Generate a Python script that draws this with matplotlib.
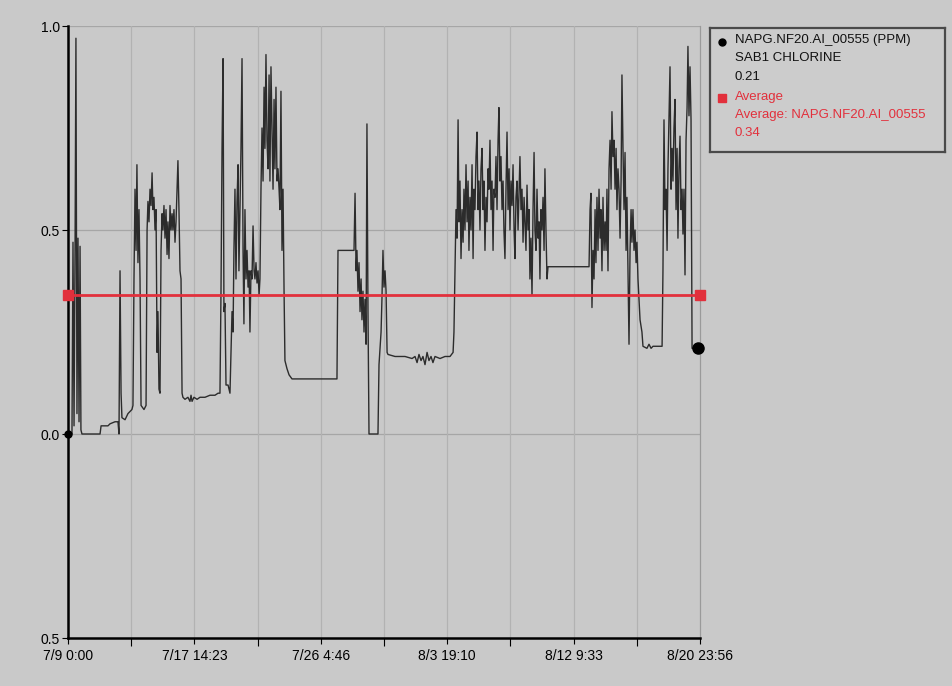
import matplotlib
matplotlib.use("Agg")
import matplotlib.pyplot as plt

plt.rcParams['font.family'] = ['Liberation Sans', 'DejaVu Sans']

# ---- data: elapsed days since 7/9 0:00, chlorine (PPM) ----
days = [
    0.00, 0.27, 0.34, 0.41, 0.48, 0.54, 0.61, 0.68, 0.75, 0.82, 0.88, 0.95,
    2.18, 2.25, 2.72, 2.86, 3.20, 3.40, 3.47, 3.54, 3.61, 3.67, 3.88, 4.08,
    4.35, 4.42, 4.49, 4.56, 4.63, 4.69, 4.76, 4.83, 4.90, 4.97, 5.17, 5.31,
    5.38, 5.44, 5.51, 5.58, 5.65, 5.72, 5.78, 5.85, 5.92, 5.99, 6.06, 6.12,
    6.19, 6.26, 6.33, 6.40, 6.46, 6.53, 6.60, 6.67, 6.74, 6.80, 6.87, 6.94,
    7.01, 7.08, 7.14, 7.21, 7.28, 7.35, 7.42, 7.48, 7.55, 7.62, 7.69, 7.76,
    7.82, 7.96, 8.16, 8.30, 8.37, 8.44, 8.57, 8.78, 8.98, 9.32, 9.66, 10.00,
    10.21, 10.34, 10.41, 10.48, 10.55, 10.61, 10.68, 10.75, 10.89, 11.02, 11.09, 11.16,
    11.23, 11.29, 11.36, 11.43, 11.50, 11.57, 11.63, 11.70, 11.77, 11.84, 11.91, 11.97,
    12.04, 12.11, 12.18, 12.25, 12.32, 12.38, 12.45, 12.52, 12.59, 12.66, 12.72, 12.79,
    12.86, 12.93, 13.00, 13.06, 13.13, 13.20, 13.27, 13.34, 13.40, 13.47, 13.54, 13.61,
    13.68, 13.74, 13.81, 13.88, 13.95, 14.02, 14.08, 14.15, 14.22, 14.29, 14.36, 14.42,
    14.49, 14.56, 14.63, 14.70, 14.76, 14.90, 15.04, 15.24, 18.30, 18.37, 19.46, 19.53,
    19.60, 19.66, 19.73, 19.80, 19.87, 19.94, 20.00, 20.07, 20.14, 20.21, 20.28, 20.34,
    20.41, 20.48, 21.09, 21.16, 21.30, 21.36, 21.43, 21.50, 21.57, 21.64, 21.71, 21.77,
    22.25, 22.93, 23.41, 23.61, 23.75, 23.88, 24.02, 24.15, 24.29, 24.43, 24.56, 24.70,
    24.83, 24.97, 25.31, 25.65, 25.99, 26.20, 26.26,
    26.33, 26.40, 26.47, 26.54, 26.60, 26.67, 26.74, 26.81, 26.88, 26.94,
    27.01, 27.08, 27.15, 27.22, 27.28, 27.35, 27.42, 27.49, 27.56, 27.62,
    27.69, 27.76, 27.83, 27.90, 27.96, 28.03, 28.10, 28.17, 28.24, 28.30,
    28.37, 28.44, 28.51, 28.58, 28.64, 28.71, 28.78, 28.85, 28.92, 28.98,
    29.05, 29.12, 29.19, 29.26, 29.32, 29.39, 29.46, 29.53, 29.60, 29.66,
    29.73, 29.80, 29.87, 29.94, 30.01, 30.07, 30.14, 30.21, 30.28, 30.35,
    30.41, 30.48, 30.55, 30.62, 30.69, 30.75, 30.82, 30.89, 30.96, 31.03,
    31.09, 31.16, 31.23, 31.30, 31.37, 31.43, 31.50, 31.57, 31.64, 31.71,
    31.77, 31.84, 31.91, 31.98, 32.05, 32.11, 32.18, 32.25, 32.32, 32.39,
    32.45, 32.52, 32.59, 32.66,
    35.45, 35.52, 35.58, 35.65, 35.72, 35.79, 35.86, 35.92, 35.99, 36.06,
    36.13, 36.20, 36.26, 36.33, 36.40, 36.47, 36.54, 36.61, 36.67, 36.74,
    36.81, 36.88, 36.95, 37.01, 37.08, 37.15, 37.22, 37.29, 37.35, 37.42,
    37.49, 37.56, 37.63, 37.69, 37.76, 37.83, 37.90, 37.97, 38.03, 38.10,
    38.17, 38.24, 38.31, 38.37, 38.44, 38.51, 38.58, 38.65, 38.71, 38.78,
    38.85, 38.92, 39.05, 39.12, 39.39, 39.53, 39.67, 39.80, 40.42,
    40.48, 40.55, 40.62, 40.69, 40.76, 40.82, 40.89, 40.96, 41.03, 41.10,
    41.16, 41.23, 41.30, 41.37, 41.44, 41.50, 41.57, 41.64, 41.71, 41.78,
    41.84, 41.91, 41.98, 42.05, 42.12, 42.18, 42.25, 42.32, 42.39, 42.46,
    42.87,
]
ppm = [
    0.00, 0.00, 0.47, 0.02, 0.45, 0.97, 0.05, 0.48, 0.03, 0.46, 0.01, 0.00,
    0.00, 0.02, 0.02, 0.025, 0.03, 0.03, 0.00, 0.40, 0.10, 0.04, 0.035, 0.05,
    0.06, 0.07, 0.38, 0.60, 0.45, 0.66, 0.42, 0.55, 0.38, 0.07, 0.06, 0.07,
    0.50, 0.57, 0.52, 0.60, 0.56, 0.64, 0.55, 0.58, 0.50, 0.55, 0.20, 0.30,
    0.11, 0.10, 0.45, 0.54, 0.50, 0.56, 0.48, 0.55, 0.44, 0.52, 0.43, 0.56,
    0.50, 0.54, 0.50, 0.55, 0.47, 0.52, 0.60, 0.67, 0.55, 0.40, 0.38, 0.10,
    0.09, 0.085, 0.09, 0.08, 0.095, 0.08, 0.09, 0.085, 0.09, 0.09, 0.095, 0.095,
    0.10, 0.10, 0.35, 0.70, 0.92, 0.30, 0.32, 0.12, 0.12, 0.10, 0.20, 0.30,
    0.25, 0.45, 0.60, 0.38, 0.57, 0.66, 0.40, 0.55, 0.70, 0.92, 0.45, 0.27,
    0.55, 0.38, 0.45, 0.36, 0.40, 0.25, 0.40, 0.38, 0.51, 0.40, 0.38, 0.42,
    0.37, 0.40, 0.34, 0.38, 0.60, 0.75, 0.62, 0.85, 0.70, 0.93, 0.72, 0.65,
    0.88, 0.62, 0.90, 0.75, 0.60, 0.82, 0.65, 0.85, 0.62, 0.65, 0.60, 0.55,
    0.84, 0.45, 0.60, 0.35, 0.18, 0.16, 0.145, 0.135, 0.135, 0.45, 0.45, 0.59,
    0.40, 0.45, 0.35, 0.42, 0.30, 0.38, 0.28, 0.35, 0.25, 0.33, 0.22, 0.76,
    0.30, 0.00, 0.00, 0.17, 0.25, 0.33, 0.45, 0.36, 0.40, 0.35, 0.20, 0.195,
    0.19, 0.19, 0.185, 0.19, 0.175, 0.195, 0.18, 0.19, 0.17, 0.20, 0.18, 0.19,
    0.175, 0.19, 0.185, 0.19, 0.19, 0.20, 0.25,
    0.40, 0.55, 0.48, 0.77, 0.52, 0.62, 0.43, 0.55, 0.47, 0.60,
    0.50, 0.66, 0.52, 0.62, 0.45, 0.58, 0.50, 0.66, 0.43, 0.60,
    0.55, 0.68, 0.74, 0.55, 0.62, 0.50, 0.65, 0.70, 0.55, 0.62,
    0.45, 0.58, 0.52, 0.65, 0.60, 0.72, 0.55, 0.62, 0.45, 0.60,
    0.58, 0.68, 0.55, 0.72, 0.80, 0.62, 0.68, 0.55, 0.62, 0.50,
    0.43, 0.60, 0.74, 0.55, 0.65, 0.50, 0.62, 0.56, 0.66, 0.50,
    0.43, 0.58, 0.62, 0.50, 0.60, 0.68, 0.55, 0.60, 0.47, 0.58,
    0.52, 0.45, 0.61, 0.50, 0.55, 0.38, 0.48, 0.34, 0.55, 0.69,
    0.50, 0.45, 0.60, 0.48, 0.52, 0.38, 0.55, 0.50, 0.58, 0.45,
    0.65, 0.50, 0.38, 0.41,
    0.41, 0.55, 0.59, 0.31, 0.45, 0.38, 0.55, 0.42, 0.58, 0.45,
    0.60, 0.48, 0.55, 0.40, 0.58, 0.45, 0.52, 0.45, 0.60, 0.40,
    0.65, 0.72, 0.60, 0.79, 0.68, 0.72, 0.60, 0.70, 0.55, 0.65,
    0.60, 0.48, 0.62, 0.88, 0.70, 0.55, 0.69, 0.45, 0.58, 0.40,
    0.22, 0.45, 0.55, 0.47, 0.55, 0.45, 0.50, 0.42, 0.47, 0.38,
    0.33, 0.28, 0.25, 0.215, 0.21, 0.22, 0.21, 0.215, 0.215,
    0.40, 0.77, 0.55, 0.60, 0.45, 0.65, 0.78, 0.90, 0.60, 0.70,
    0.62, 0.75, 0.82, 0.55, 0.70, 0.48, 0.65, 0.73, 0.55, 0.60,
    0.49, 0.60, 0.39, 0.72, 0.80, 0.95, 0.78, 0.90, 0.77, 0.21,
    0.21,
]
average = 0.34
last_value = 0.21

x_span = [0.0, 43.0]
xtick_days = [0.0, 8.6, 17.2, 25.8, 34.4, 43.0]
xtick_labels = ["7/9 0:00", "7/17 14:23", "7/26 4:46", "8/3 19:10", "8/12 9:33", "8/20 23:56"]
xminor_days = [4.3, 12.9, 21.5, 30.1, 38.7]
ytick_values = [-0.5, 0.0, 0.5, 1.0]
ytick_labels = ["0.5", "0.0", "0.5", "1.0"]

legend_black = ["NAPG.NF20.AI_00555 (PPM)", "SAB1 CHLORINE", "0.21"]
legend_red = ["Average", "Average: NAPG.NF20.AI_00555", "0.34"]

# ---- style ----
bg = '#c9c9c9'
red = '#e2303c'
fig = plt.figure(figsize=(9.53, 6.86), dpi=100, facecolor=bg)
ax = fig.add_axes([68 / 953, 48 / 686, 632 / 953, 612 / 686])
ax.set_facecolor(bg)
ax.set_xlim(*x_span)
ax.set_ylim(-0.5, 1.0)

for v in [0.0, 0.5, 1.0]:
    ax.axhline(v, color='#a6a6a6', lw=0.9, zorder=1)
for d in xtick_days[1:-1] + xminor_days:
    ax.axvline(d, color='#b2b2b2', lw=0.9, zorder=1)

ax.plot(days, ppm, color='#2c2c2c', lw=1.0, zorder=3)
ax.plot(x_span, [average, average], color=red, lw=2.0, marker='s', ms=7,
        zorder=4, clip_on=False)
ax.plot([days[0]], [ppm[0]], 'o', color='black', ms=5, zorder=5, clip_on=False)
ax.plot([days[-1]], [ppm[-1]], 'o', color='black', ms=8, zorder=5, clip_on=False)

ax.set_xticks(xtick_days)
ax.set_xticklabels(xtick_labels)
ax.set_xticks(xminor_days, minor=True)
ax.set_yticks(ytick_values)
ax.set_yticklabels(ytick_labels)
ax.tick_params(axis='both', which='both', direction='out', length=4, width=0.8,
               colors='black', labelsize=10, pad=2)
ax.tick_params(axis='x', which='minor', length=6)
ax.tick_params(axis='x', which='major', pad=4)
for s in ['left', 'bottom']:
    ax.spines[s].set_color('black')
    ax.spines[s].set_linewidth(1.8)
ax.spines['top'].set_visible(False)
ax.spines['right'].set_color('#9a9a9a')
ax.spines['right'].set_linewidth(0.9)

# ---- legend box ----
lax = fig.add_axes([710 / 953, (686 - 152) / 686, 235 / 953, 124 / 686])
lax.set_facecolor('#cccccc')
lax.set_xticks([])
lax.set_yticks([])
for s in lax.spines.values():
    s.set_color('#4a4a4a')
    s.set_linewidth(1.6)
lax.set_xlim(0, 1)
lax.set_ylim(1, 0)
rows = [0.10, 0.245, 0.395, 0.555, 0.70, 0.85]
for i, t in enumerate(legend_black):
    lax.text(0.105, rows[i], t, color='#111111', fontsize=9.5, va='center', ha='left')
for i, t in enumerate(legend_red):
    lax.text(0.105, rows[3 + i], t, color=red, fontsize=9.5, va='center', ha='left')
lax.plot([0.052], [rows[0] + 0.01], 'o', color='black', ms=5)
lax.plot([0.052], [rows[3] + 0.01], 's', color=red, ms=6)

fig.savefig('out.png', dpi=100, facecolor=bg)
